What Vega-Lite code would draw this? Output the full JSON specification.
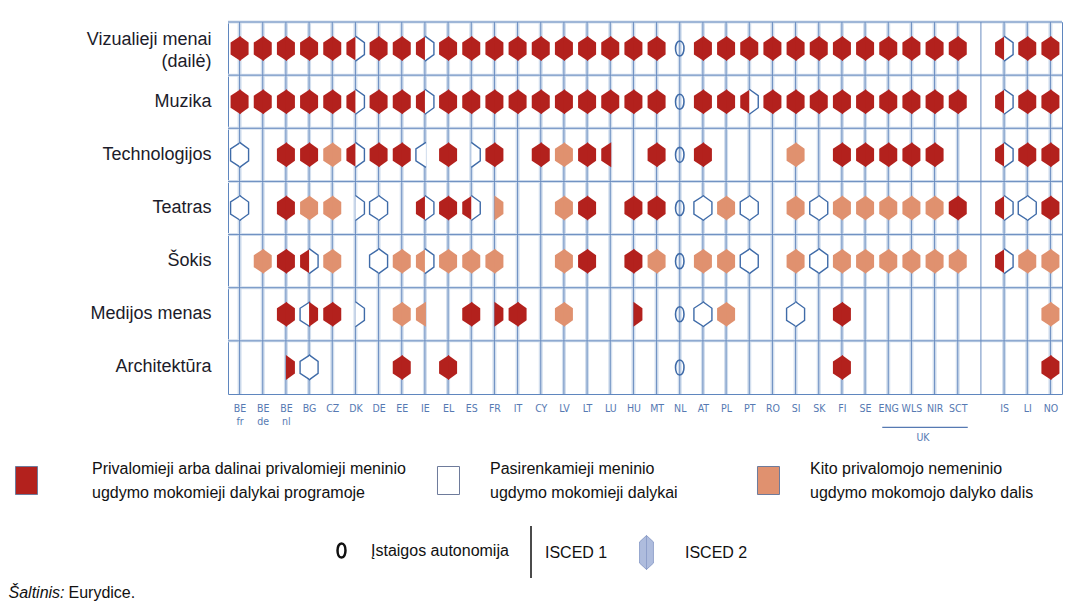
{
  "$schema": "https://vega.github.io/schema/vega-lite/v6.json",
  "width": 834,
  "height": 372,
  "autosize": {"type": "none"},
  "padding": {"left": 228, "top": 22, "right": 5, "bottom": 212},
  "background": "white",
  "config": {"view": {"stroke": "#5F86BE", "strokeWidth": 1}, "font": "Liberation Sans", "style": {"guide-label": {"lineHeight": 24}}},
  "datasets": {
    "cells": [
      {"s":"Vizualieji menai (dailė)","c":"BE fr","a":"C","b":"C"},{"s":"Vizualieji menai (dailė)","c":"BE de","a":"C","b":"C"},{"s":"Vizualieji menai (dailė)","c":"BE nl","a":"C","b":"C"},{"s":"Vizualieji menai (dailė)","c":"BG","a":"C","b":"C"},{"s":"Vizualieji menai (dailė)","c":"CZ","a":"C","b":"C"},{"s":"Vizualieji menai (dailė)","c":"DK","a":"C","b":"O"},{"s":"Vizualieji menai (dailė)","c":"DE","a":"C","b":"C"},{"s":"Vizualieji menai (dailė)","c":"EE","a":"C","b":"C"},{"s":"Vizualieji menai (dailė)","c":"IE","a":"C","b":"O"},{"s":"Vizualieji menai (dailė)","c":"EL","a":"C","b":"C"},{"s":"Vizualieji menai (dailė)","c":"ES","a":"C","b":"C"},{"s":"Vizualieji menai (dailė)","c":"FR","a":"C","b":"C"},{"s":"Vizualieji menai (dailė)","c":"IT","a":"C","b":"C"},{"s":"Vizualieji menai (dailė)","c":"CY","a":"C","b":"C"},{"s":"Vizualieji menai (dailė)","c":"LV","a":"C","b":"C"},{"s":"Vizualieji menai (dailė)","c":"LT","a":"C","b":"C"},{"s":"Vizualieji menai (dailė)","c":"LU","a":"C","b":"C"},{"s":"Vizualieji menai (dailė)","c":"HU","a":"C","b":"C"},{"s":"Vizualieji menai (dailė)","c":"MT","a":"C","b":"C"},{"s":"Vizualieji menai (dailė)","c":"NL","a":"A","b":"A"},{"s":"Vizualieji menai (dailė)","c":"AT","a":"C","b":"C"},{"s":"Vizualieji menai (dailė)","c":"PL","a":"C","b":"C"},{"s":"Vizualieji menai (dailė)","c":"PT","a":"C","b":"C"},{"s":"Vizualieji menai (dailė)","c":"RO","a":"C","b":"C"},{"s":"Vizualieji menai (dailė)","c":"SI","a":"C","b":"C"},{"s":"Vizualieji menai (dailė)","c":"SK","a":"C","b":"C"},{"s":"Vizualieji menai (dailė)","c":"FI","a":"C","b":"C"},{"s":"Vizualieji menai (dailė)","c":"SE","a":"C","b":"C"},{"s":"Vizualieji menai (dailė)","c":"ENG","a":"C","b":"C"},{"s":"Vizualieji menai (dailė)","c":"WLS","a":"C","b":"C"},{"s":"Vizualieji menai (dailė)","c":"NIR","a":"C","b":"C"},{"s":"Vizualieji menai (dailė)","c":"SCT","a":"C","b":"C"},{"s":"Vizualieji menai (dailė)","c":"IS","a":"C","b":"O"},{"s":"Vizualieji menai (dailė)","c":"LI","a":"C","b":"C"},{"s":"Vizualieji menai (dailė)","c":"NO","a":"C","b":"C"},
      {"s":"Muzika","c":"BE fr","a":"C","b":"C"},{"s":"Muzika","c":"BE de","a":"C","b":"C"},{"s":"Muzika","c":"BE nl","a":"C","b":"C"},{"s":"Muzika","c":"BG","a":"C","b":"C"},{"s":"Muzika","c":"CZ","a":"C","b":"C"},{"s":"Muzika","c":"DK","a":"C","b":"O"},{"s":"Muzika","c":"DE","a":"C","b":"C"},{"s":"Muzika","c":"EE","a":"C","b":"C"},{"s":"Muzika","c":"IE","a":"C","b":"O"},{"s":"Muzika","c":"EL","a":"C","b":"C"},{"s":"Muzika","c":"ES","a":"C","b":"C"},{"s":"Muzika","c":"FR","a":"C","b":"C"},{"s":"Muzika","c":"IT","a":"C","b":"C"},{"s":"Muzika","c":"CY","a":"C","b":"C"},{"s":"Muzika","c":"LV","a":"C","b":"C"},{"s":"Muzika","c":"LT","a":"C","b":"C"},{"s":"Muzika","c":"LU","a":"C","b":"C"},{"s":"Muzika","c":"HU","a":"C","b":"C"},{"s":"Muzika","c":"MT","a":"C","b":"C"},{"s":"Muzika","c":"NL","a":"A","b":"A"},{"s":"Muzika","c":"AT","a":"C","b":"C"},{"s":"Muzika","c":"PL","a":"C","b":"C"},{"s":"Muzika","c":"PT","a":"C","b":"O"},{"s":"Muzika","c":"RO","a":"C","b":"C"},{"s":"Muzika","c":"SI","a":"C","b":"C"},{"s":"Muzika","c":"SK","a":"C","b":"C"},{"s":"Muzika","c":"FI","a":"C","b":"C"},{"s":"Muzika","c":"SE","a":"C","b":"C"},{"s":"Muzika","c":"ENG","a":"C","b":"C"},{"s":"Muzika","c":"WLS","a":"C","b":"C"},{"s":"Muzika","c":"NIR","a":"C","b":"C"},{"s":"Muzika","c":"SCT","a":"C","b":"C"},{"s":"Muzika","c":"IS","a":"C","b":"O"},{"s":"Muzika","c":"LI","a":"C","b":"C"},{"s":"Muzika","c":"NO","a":"C","b":"C"},
      {"s":"Technologijos","c":"BE fr","a":"O","b":"O"},{"s":"Technologijos","c":"BE nl","a":"C","b":"C"},{"s":"Technologijos","c":"BG","a":"C","b":"C"},{"s":"Technologijos","c":"CZ","a":"P","b":"P"},{"s":"Technologijos","c":"DK","a":"C","b":"O"},{"s":"Technologijos","c":"DE","a":"C","b":"C"},{"s":"Technologijos","c":"EE","a":"C","b":"C"},{"s":"Technologijos","c":"IE","a":"O","b":"-"},{"s":"Technologijos","c":"EL","a":"C","b":"C"},{"s":"Technologijos","c":"ES","a":"-","b":"O"},{"s":"Technologijos","c":"FR","a":"C","b":"C"},{"s":"Technologijos","c":"CY","a":"C","b":"C"},{"s":"Technologijos","c":"LV","a":"P","b":"P"},{"s":"Technologijos","c":"LT","a":"C","b":"C"},{"s":"Technologijos","c":"LU","a":"C","b":"-"},{"s":"Technologijos","c":"MT","a":"C","b":"C"},{"s":"Technologijos","c":"NL","a":"A","b":"A"},{"s":"Technologijos","c":"AT","a":"C","b":"C"},{"s":"Technologijos","c":"SI","a":"P","b":"P"},{"s":"Technologijos","c":"FI","a":"C","b":"C"},{"s":"Technologijos","c":"SE","a":"C","b":"C"},{"s":"Technologijos","c":"ENG","a":"C","b":"C"},{"s":"Technologijos","c":"WLS","a":"C","b":"C"},{"s":"Technologijos","c":"NIR","a":"C","b":"C"},{"s":"Technologijos","c":"IS","a":"C","b":"O"},{"s":"Technologijos","c":"LI","a":"C","b":"C"},{"s":"Technologijos","c":"NO","a":"C","b":"C"},
      {"s":"Teatras","c":"BE fr","a":"O","b":"O"},{"s":"Teatras","c":"BE nl","a":"C","b":"C"},{"s":"Teatras","c":"BG","a":"P","b":"P"},{"s":"Teatras","c":"CZ","a":"P","b":"P"},{"s":"Teatras","c":"DK","a":"-","b":"O"},{"s":"Teatras","c":"DE","a":"O","b":"O"},{"s":"Teatras","c":"IE","a":"C","b":"O"},{"s":"Teatras","c":"EL","a":"C","b":"C"},{"s":"Teatras","c":"ES","a":"C","b":"O"},{"s":"Teatras","c":"FR","a":"-","b":"P"},{"s":"Teatras","c":"LV","a":"P","b":"P"},{"s":"Teatras","c":"LT","a":"C","b":"C"},{"s":"Teatras","c":"HU","a":"C","b":"C"},{"s":"Teatras","c":"MT","a":"C","b":"C"},{"s":"Teatras","c":"NL","a":"A","b":"A"},{"s":"Teatras","c":"AT","a":"O","b":"O"},{"s":"Teatras","c":"PL","a":"P","b":"P"},{"s":"Teatras","c":"PT","a":"O","b":"O"},{"s":"Teatras","c":"SI","a":"P","b":"P"},{"s":"Teatras","c":"SK","a":"O","b":"O"},{"s":"Teatras","c":"FI","a":"P","b":"P"},{"s":"Teatras","c":"SE","a":"P","b":"P"},{"s":"Teatras","c":"ENG","a":"P","b":"P"},{"s":"Teatras","c":"WLS","a":"P","b":"P"},{"s":"Teatras","c":"NIR","a":"P","b":"P"},{"s":"Teatras","c":"SCT","a":"C","b":"C"},{"s":"Teatras","c":"IS","a":"C","b":"O"},{"s":"Teatras","c":"LI","a":"O","b":"O"},{"s":"Teatras","c":"NO","a":"C","b":"C"},
      {"s":"Šokis","c":"BE de","a":"P","b":"P"},{"s":"Šokis","c":"BE nl","a":"C","b":"C"},{"s":"Šokis","c":"BG","a":"C","b":"O"},{"s":"Šokis","c":"CZ","a":"P","b":"P"},{"s":"Šokis","c":"DE","a":"O","b":"O"},{"s":"Šokis","c":"EE","a":"P","b":"P"},{"s":"Šokis","c":"IE","a":"P","b":"O"},{"s":"Šokis","c":"EL","a":"P","b":"P"},{"s":"Šokis","c":"ES","a":"P","b":"P"},{"s":"Šokis","c":"FR","a":"P","b":"P"},{"s":"Šokis","c":"LV","a":"P","b":"P"},{"s":"Šokis","c":"LT","a":"C","b":"C"},{"s":"Šokis","c":"HU","a":"C","b":"C"},{"s":"Šokis","c":"MT","a":"P","b":"P"},{"s":"Šokis","c":"NL","a":"A","b":"A"},{"s":"Šokis","c":"AT","a":"P","b":"P"},{"s":"Šokis","c":"PL","a":"P","b":"P"},{"s":"Šokis","c":"PT","a":"O","b":"O"},{"s":"Šokis","c":"SI","a":"P","b":"P"},{"s":"Šokis","c":"SK","a":"O","b":"O"},{"s":"Šokis","c":"FI","a":"P","b":"P"},{"s":"Šokis","c":"SE","a":"P","b":"P"},{"s":"Šokis","c":"ENG","a":"P","b":"P"},{"s":"Šokis","c":"WLS","a":"P","b":"P"},{"s":"Šokis","c":"NIR","a":"P","b":"P"},{"s":"Šokis","c":"SCT","a":"P","b":"P"},{"s":"Šokis","c":"IS","a":"C","b":"O"},{"s":"Šokis","c":"LI","a":"P","b":"P"},{"s":"Šokis","c":"NO","a":"P","b":"P"},
      {"s":"Medijos menas","c":"BE nl","a":"C","b":"C"},{"s":"Medijos menas","c":"BG","a":"O","b":"C"},{"s":"Medijos menas","c":"CZ","a":"C","b":"C"},{"s":"Medijos menas","c":"DK","a":"-","b":"O"},{"s":"Medijos menas","c":"EE","a":"P","b":"P"},{"s":"Medijos menas","c":"IE","a":"P","b":"-"},{"s":"Medijos menas","c":"ES","a":"C","b":"C"},{"s":"Medijos menas","c":"FR","a":"-","b":"C"},{"s":"Medijos menas","c":"IT","a":"C","b":"C"},{"s":"Medijos menas","c":"LV","a":"P","b":"P"},{"s":"Medijos menas","c":"HU","a":"-","b":"C"},{"s":"Medijos menas","c":"NL","a":"A","b":"A"},{"s":"Medijos menas","c":"AT","a":"O","b":"O"},{"s":"Medijos menas","c":"PL","a":"P","b":"P"},{"s":"Medijos menas","c":"SI","a":"O","b":"O"},{"s":"Medijos menas","c":"FI","a":"C","b":"C"},{"s":"Medijos menas","c":"NO","a":"P","b":"P"},
      {"s":"Architektūra","c":"BE nl","a":"-","b":"C"},{"s":"Architektūra","c":"BG","a":"O","b":"O"},{"s":"Architektūra","c":"EE","a":"C","b":"C"},{"s":"Architektūra","c":"EL","a":"C","b":"C"},{"s":"Architektūra","c":"NL","a":"A","b":"A"},{"s":"Architektūra","c":"FI","a":"C","b":"C"},{"s":"Architektūra","c":"NO","a":"C","b":"C"}
    ],
    "countries": [
      {"c":"BE fr"},{"c":"BE de"},{"c":"BE nl"},{"c":"BG"},{"c":"CZ"},{"c":"DK"},{"c":"DE"},{"c":"EE"},{"c":"IE"},{"c":"EL"},{"c":"ES"},{"c":"FR"},{"c":"IT"},{"c":"CY"},{"c":"LV"},{"c":"LT"},{"c":"LU"},{"c":"HU"},{"c":"MT"},{"c":"NL"},{"c":"AT"},{"c":"PL"},{"c":"PT"},{"c":"RO"},{"c":"SI"},{"c":"SK"},{"c":"FI"},{"c":"SE"},{"c":"ENG"},{"c":"WLS"},{"c":"NIR"},{"c":"SCT"},{"c":" "},{"c":"IS"},{"c":"LI"},{"c":"NO"}
    ],
    "subjects": [
      {"s":"Vizualieji menai (dailė)"},{"s":"Muzika"},{"s":"Technologijos"},{"s":"Teatras"},{"s":"Šokis"},{"s":"Medijos menas"},{"s":"Architektūra"}
    ],
    "groups": [{"g":"UK","first":"ENG","mid":"WLS","last":"SCT"}]
  },
  "resolve": {"scale": {"strokeDash": "independent"}},
  "layer": [
    {
      "data": {"name": "countries"},
      "transform": [{"filter": "datum.c !== ' '"}],
      "mark": {"type": "rule", "color": "#D3DFEE", "strokeWidth": 4},
      "encoding": {
        "x": {
          "field": "c", "type": "nominal",
          "scale": {"type": "point", "padding": 0.5, "domain": ["BE fr","BE de","BE nl","BG","CZ","DK","DE","EE","IE","EL","ES","FR","IT","CY","LV","LT","LU","HU","MT","NL","AT","PL","PT","RO","SI","SK","FI","SE","ENG","WLS","NIR","SCT"," ","IS","LI","NO"]},
          "axis": {
            "labelExpr": "split(datum.label, ' ')",
            "labelAngle": 0, "labelBaseline": "top", "labelPadding": 9,
            "labelFont": "DejaVu Sans Condensed, Liberation Sans Narrow, Liberation Sans, sans-serif", "labelFontSize": 10.5, "labelLineHeight": 13,
            "labelColor": "#5679B2", "labelOverlap": false, "labelBound": false,
            "ticks": false, "domain": false, "grid": false,
            "title": "Eurydice.", "titleX": -160, "titleY": 198, "titleAlign": "left", "titleBaseline": "middle",
            "titleFont": "Liberation Sans", "titleFontSize": 16, "titleFontWeight": "normal", "titleColor": "#111111"
          }
        },
        "strokeDash": {
          "datum": "ISCED 2",
          "scale": {"range": [[1, 0]]},
          "legend": {
            "orient": "none", "legendX": 317, "legendY": 513, "padding": 0,
            "title": "ISCED 1", "titleOrient": "left", "titleFont": "Liberation Sans", "titleFontSize": 16, "titleFontWeight": "normal", "titleColor": "#111111", "titlePadding": 21, "titleBaseline": "middle",
            "symbolType": "M0,-1L0.41,-0.62L0.41,0.62L0,1L-0.41,0.62L-0.41,-0.62Z M0,-1L0,1", "symbolSize": 1156,
            "symbolFillColor": "#AEBCDD", "symbolStrokeColor": "#8497C5", "symbolStrokeWidth": 1,
            "labelFont": "Liberation Sans", "labelFontSize": 16, "labelColor": "#111111", "labelOffset": 21
          }
        }
      }
    },
    {
      "data": {"name": "subjects"},
      "mark": {"type": "rule", "color": "#D3DFEE", "strokeWidth": 3},
      "encoding": {
        "y": {
          "field": "s", "type": "nominal", "bandPosition": 0,
          "scale": {"type": "band", "paddingInner": 0, "paddingOuter": 0, "domain": ["Vizualieji menai (dailė)","Muzika","Technologijos","Teatras","Šokis","Medijos menas","Architektūra"]},
          "axis": {
            "labelExpr": "datum.label === 'Vizualieji menai (dailė)' ? ['Vizualieji menai', '(dailė)'] : datum.label",
            "labelOffset": {"condition": {"test": "datum.value === 'Vizualieji menai (dailė)'", "value": -9}, "value": 0},
            "labelFont": "Liberation Sans", "labelFontSize": 18, "labelLineHeight": 22, "labelColor": "#1C1C2A",
            "labelPadding": 17, "labelLimit": 300, "ticks": false, "domain": false, "grid": false, "bandPosition": 0.5,
            "title": "Šaltinis:", "titleAngle": 0, "titleX": -220, "titleY": 570, "titleAlign": "left", "titleBaseline": "middle",
            "titleFont": "Liberation Sans", "titleFontSize": 16, "titleFontStyle": "italic", "titleFontWeight": "normal", "titleColor": "#111111"
          }
        }
      }
    },
    {
      "data": {"name": "countries"},
      "mark": {"type": "rule", "color": "#6A8DC0", "strokeWidth": 1},
      "encoding": {
        "x": {"field": "c", "type": "nominal"},
        "strokeDash": {
          "datum": "sep",
          "scale": {"range": [[1, 0]]},
          "legend": {
            "orient": "none", "legendX": 276, "legendY": 503, "title": null, "padding": 0,
            "symbolType": "M0,-1L0,1", "symbolSize": 2704, "symbolStrokeColor": "#111111", "symbolStrokeWidth": 1.5, "symbolFillColor": "transparent",
            "labelExpr": "''", "labelOffset": 0
          }
        }
      }
    },
    {
      "data": {"name": "subjects"},
      "mark": {"type": "rule", "color": "#6A8DC0", "strokeWidth": 1},
      "encoding": {"y": {"field": "s", "type": "nominal", "bandPosition": 0}}
    },
    {
      "data": {"name": "cells"},
      "transform": [
        {"fold": ["a", "b"], "as": ["lv", "st"]},
        {"filter": "datum.lv === 'a' && indexof(['C','O','P'], datum.st) >= 0"}
      ],
      "mark": {"type": "point", "filled": true, "opacity": 1, "size": 625, "strokeWidth": 1.4, "shape": "M0.08,-1L-0.72,-0.48L-0.72,0.48L0.08,1"},
      "encoding": {
        "x": {"field": "c", "type": "nominal"},
        "y": {"field": "s", "type": "nominal"},
        "fill": {
          "field": "st", "type": "nominal",
          "scale": {"domain": ["C", "O", "P"], "range": ["#B3211D", "#FFFFFF", "#E0916F"]},
          "legend": {
            "orient": "none", "legendX": -216, "legendY": 444, "direction": "horizontal", "title": null, "padding": 0,
            "symbolType": "M-0.786,-1L0.786,-1L0.786,1L-0.786,1Z", "symbolSize": 784,
            "symbolStrokeColor": "#6E7B9B", "symbolStrokeWidth": 1,
            "labelFont": "Liberation Sans", "labelFontSize": 16, "labelColor": "#111111", "labelOffset": 27, "labelLimit": 600,
            "labelBaseline": "line-bottom",
            "columnPadding": 28, "gridAlign": "none",
            "labelExpr": "datum.value === 'C' ? ['\u2800\u2800Privalomieji arba dalinai privalomieji meninio', '\u2800\u2800ugdymo mokomieji dalykai programoje'] : datum.value === 'O' ? ['Pasirenkamieji meninio', 'ugdymo mokomieji dalykai\u2800\u2800\u2800\u2800'] : ['Kito privalomojo nemeninio', 'ugdymo mokomojo dalyko dalis']"
          }
        },
        "stroke": {"condition": {"test": "datum.st === 'O'", "value": "#3F6BA8"}, "value": "transparent"}
      }
    },
    {
      "data": {"name": "cells"},
      "transform": [
        {"fold": ["a", "b"], "as": ["lv", "st"]},
        {"filter": "datum.lv === 'b' && indexof(['C','O','P'], datum.st) >= 0"}
      ],
      "mark": {"type": "point", "filled": true, "opacity": 1, "size": 625, "strokeWidth": 1.4, "shape": "M0,-1L0.72,-0.48L0.72,0.48L0,1"},
      "encoding": {
        "x": {"field": "c", "type": "nominal"},
        "y": {"field": "s", "type": "nominal"},
        "fill": {"field": "st", "type": "nominal"},
        "stroke": {"condition": {"test": "datum.st === 'O'", "value": "#3F6BA8"}, "value": "transparent"}
      }
    },
    {
      "data": {"name": "cells"},
      "transform": [{"filter": "datum.a === 'A'"}],
      "mark": {"type": "point", "filled": false, "stroke": "#3F6BA8", "strokeWidth": 1.6, "opacity": 1, "size": 225},
      "encoding": {
        "x": {"field": "c", "type": "nominal"},
        "y": {"field": "s", "type": "nominal"},
        "shape": {
          "datum": "Įstaigos autonomija",
          "scale": {"domain": ["Įstaigos autonomija"], "range": ["M0,-1C0.75,-1 0.75,1 0,1C-0.75,1 -0.75,-1 0,-1Z"]},
          "legend": {
            "orient": "none", "legendX": 105, "legendY": 520, "title": null, "padding": 0,
            "symbolSize": 200, "symbolStrokeColor": "#111111", "symbolStrokeWidth": 2.5,
            "labelFont": "Liberation Sans", "labelFontSize": 16, "labelColor": "#111111", "labelOffset": 21, "labelLimit": 400
          }
        }
      }
    },
    {
      "data": {"name": "groups"},
      "mark": {"type": "rule", "color": "#5679B2", "strokeWidth": 1.3, "xOffset": -6, "x2Offset": 10, "yOffset": 60},
      "encoding": {
        "x": {"field": "first", "type": "nominal"},
        "x2": {"field": "last"},
        "y": {"datum": "Architektūra", "type": "nominal"}
      }
    },
    {
      "data": {"name": "groups"},
      "mark": {"type": "text", "font": "DejaVu Sans Condensed, Liberation Sans Narrow, Liberation Sans, sans-serif", "fontSize": 10.5, "color": "#5679B2", "dx": 11.6, "dy": 71, "baseline": "middle"},
      "encoding": {
        "x": {"field": "mid", "type": "nominal"},
        "y": {"datum": "Architektūra", "type": "nominal"},
        "text": {"field": "g"}
      }
    }
  ]
}
